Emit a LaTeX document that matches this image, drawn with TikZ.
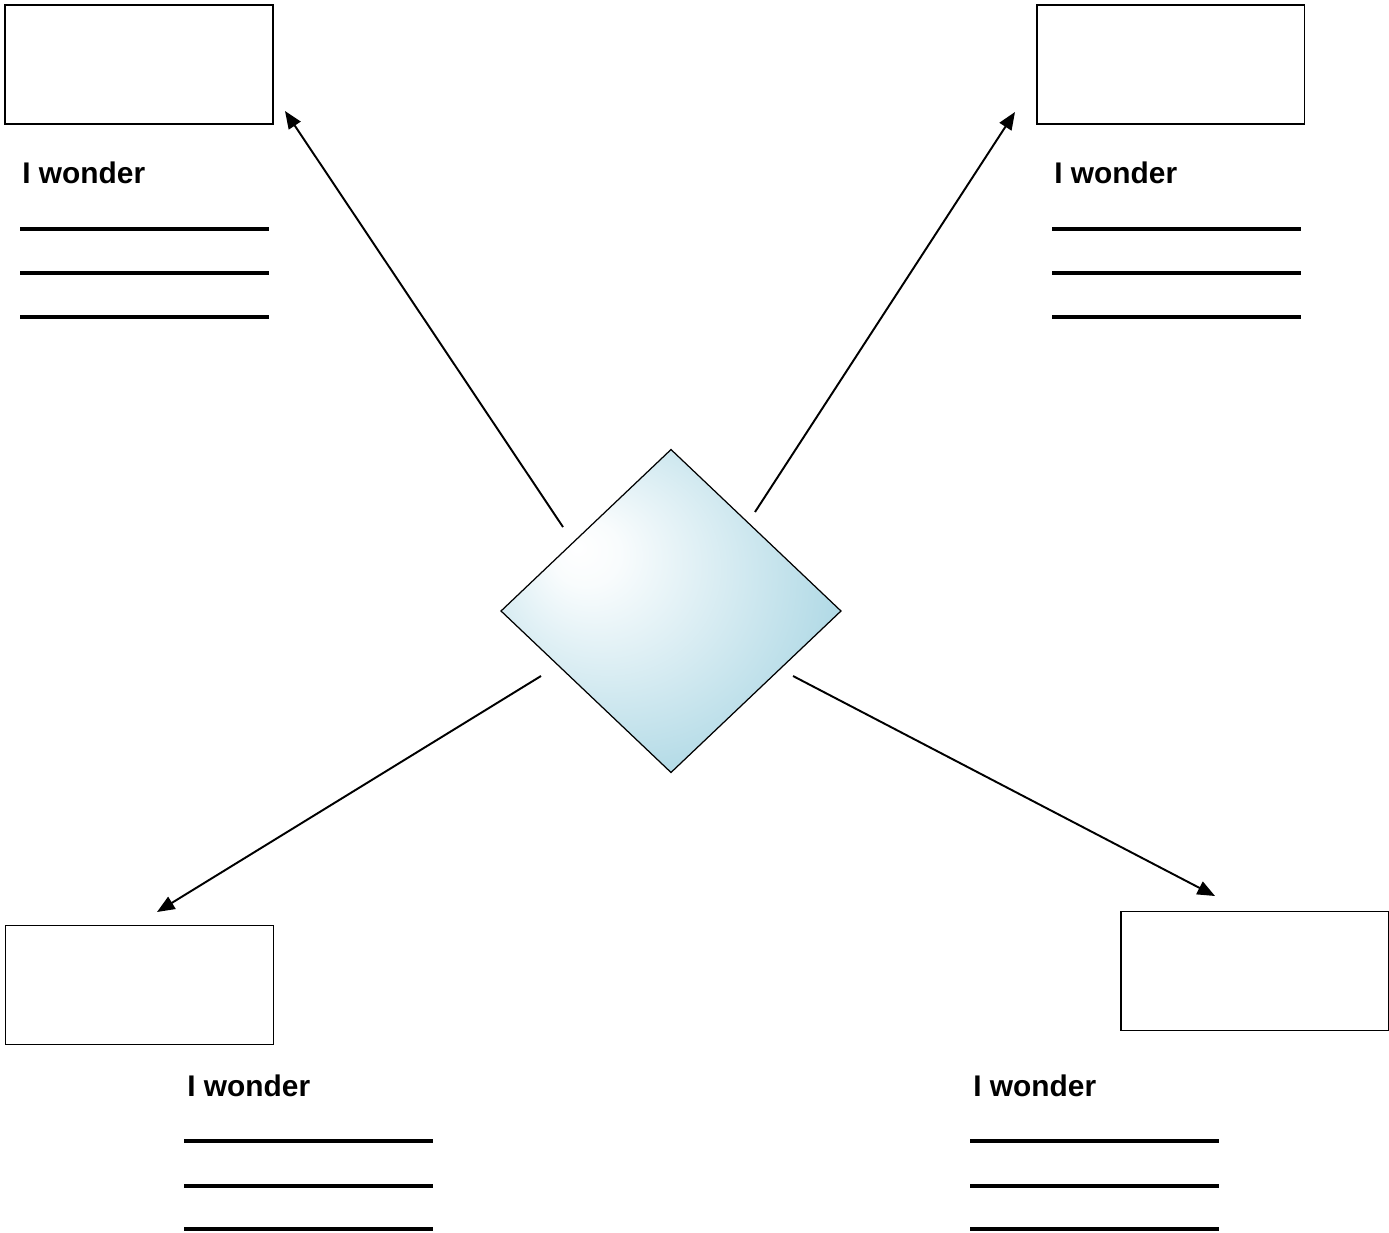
\documentclass[tikz,border=0pt]{standalone}
\usepackage{fontspec}
\setmainfont{Liberation Sans}
\usetikzlibrary{shapes.geometric,arrows.meta}
\definecolor{diamblue}{RGB}{178,218,230}
\pgfdeclareradialshading{glare}{\pgfpoint{-14bp}{10bp}}{color(0bp)=(white); color(5bp)=(white!92!diamblue); color(18bp)=(white!45!diamblue); color(30bp)=(diamblue); color(50bp)=(diamblue)}
\tikzset{
  answerbox/.style={shape=rectangle,draw=black,line width=1.1pt,minimum width=5.36cm,minimum height=2.38cm,inner sep=0pt,outer sep=0pt},
  wonder/.style={anchor=base west,inner sep=0pt,font=\fontsize{17}{20}\selectfont\bfseries},
  writeline/.style={line width=1.9pt},
  pointer/.style={line width=1.1pt,-{Triangle[length=10pt,width=8pt]}}
}
\begin{document}
\begin{tikzpicture}[x=0.02cm,y=-0.02cm]
    \useasboundingbox (0,0) rectangle (1389,1233);

    \node[shape=diamond,draw=black,line width=0.7pt,shading=glare,minimum width=6.8cm,minimum height=6.46cm,inner sep=0pt,outer sep=0pt] (Idea) at (671,611) {};

    \node[answerbox] (TLBox) at (139,64.5) {};
    \node[answerbox] (TRBox) at (1170.5,64.5) {};
    \node[answerbox] (BLBox) at (139.5,985) {};
    \node[answerbox] (BRBox) at (1254.5,971) {};

    \node[wonder] (TLWonder) at (22,184) {I wonder};
    \node[wonder] (TRWonder) at (1054,184) {I wonder};
    \node[wonder] (BLWonder) at (187,1096) {I wonder};
    \node[wonder] (BRWonder) at (973,1096) {I wonder};

    \foreach \y in {229,273,317} {
      \draw[writeline] (20,\y) -- (269,\y);
      \draw[writeline] (1052,\y) -- (1301,\y);
    }
    \foreach \y in {1141,1186,1229} {
      \draw[writeline] (184,\y) -- (433,\y);
      \draw[writeline] (970,\y) -- (1219,\y);
    }

    \coordinate (TLTail) at (563,527);
    \coordinate (TLTip) at (285,111);
    \coordinate (TRTail) at (755,512);
    \coordinate (TRTip) at (1015,112);
    \coordinate (BLTail) at (541,676);
    \coordinate (BLTip) at (157,912);
    \coordinate (BRTail) at (793,676);
    \coordinate (BRTip) at (1215,896);

    \path [pointer] (TLTail) edge (TLTip);
    \path [pointer] (TRTail) edge (TRTip);
    \path [pointer] (BLTail) edge (BLTip);
    \path [pointer] (BRTail) edge (BRTip);
  \end{tikzpicture}
\end{document}
